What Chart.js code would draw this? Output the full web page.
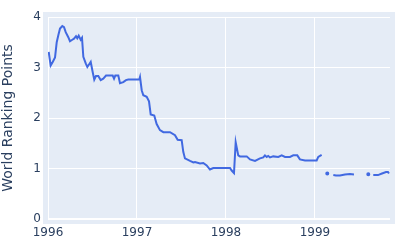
<!DOCTYPE html>
<html>
<head>
<meta charset="utf-8">
<script src="https://cdn.jsdelivr.net/npm/chart.js@4"></script>
<style>
  html, body { margin: 0; padding: 0; background: #fff; }
  #wrap { width: 400px; height: 250px; }
</style>
</head>
<body>
<div id="wrap"><canvas id="rankChart"></canvas></div>
<script>
// decimal year of each ranking week, null value = no ranking that week
var weeks = [
    1996.008, 1996.030, 1996.053, 1996.079, 1996.098, 1996.116, 1996.135, 1996.161,
    1996.180, 1996.199, 1996.228, 1996.247, 1996.273, 1996.292, 1996.315, 1996.329,
    1996.345, 1996.367, 1996.382, 1996.397, 1996.424, 1996.442, 1996.461, 1996.480,
    1996.502, 1996.520, 1996.539, 1996.565, 1996.592, 1996.621, 1996.652, 1996.697,
    1996.727, 1996.742, 1996.756, 1996.790, 1996.809, 1996.846, 1996.876, 1996.902,
    1997.026, 1997.034, 1997.053, 1997.071, 1997.109, 1997.135, 1997.154, 1997.194,
    1997.221, 1997.258, 1997.296, 1997.371, 1997.427, 1997.457, 1997.502, 1997.520,
    1997.539, 1997.596, 1997.633, 1997.652, 1997.708, 1997.745, 1997.783, 1997.820,
    1997.857, 1998.045, 1998.064, 1998.090, 1998.109, 1998.138, 1998.157, 1998.233,
    1998.270, 1998.326, 1998.382, 1998.419, 1998.438, 1998.457, 1998.475, 1998.494,
    1998.531, 1998.588, 1998.626, 1998.663, 1998.719, 1998.756, 1998.801, 1998.831,
    1998.888, 1999.019, 1999.037, 1999.075, 1999.095, 1999.138, 1999.160, 1999.206,
    1999.236, 1999.281, 1999.337, 1999.393, 1999.438, 1999.470, 1999.599, 1999.620,
    1999.655, 1999.708, 1999.753, 1999.798, 1999.820, 1999.831
];
var points = [
    3.31, 3.04, 3.11, 3.20, 3.50, 3.64, 3.77, 3.82,
    3.80, 3.70, 3.60, 3.52, 3.55, 3.57, 3.62, 3.58,
    3.63, 3.55, 3.59, 3.21, 3.08, 3.01, 3.06, 3.11,
    2.91, 2.76, 2.83, 2.83, 2.75, 2.78, 2.84, 2.84,
    2.84, 2.78, 2.84, 2.84, 2.69, 2.71, 2.75, 2.76,
    2.76, 2.81, 2.55, 2.45, 2.42, 2.33, 2.07, 2.05,
    1.88, 1.76, 1.72, 1.72, 1.66, 1.57, 1.56, 1.33,
    1.20, 1.15, 1.12, 1.13, 1.10, 1.11, 1.06, 0.98,
    1.01, 1.01, 0.96, 0.91, 1.52, 1.26, 1.24, 1.24,
    1.18, 1.15, 1.20, 1.22, 1.26, 1.23, 1.25, 1.22,
    1.24, 1.23, 1.26, 1.23, 1.23, 1.26, 1.26, 1.18,
    1.16, 1.16, 1.23, 1.27, null, 0.90, null, 0.87,
    0.86, 0.86, 0.88, 0.89, 0.88, null, 0.885, null,
    0.87, 0.87, 0.90, 0.93, 0.93, 0.90
];
var yearTicks = [1996, 1997, 1998, 1999];

var textColor = '#2a3f5f';
var chartData = weeks.map(function(w, i) { return { x: w, y: points[i] }; });

// plotly-like background that sticks out a little past the plot area
var plotBackground = {
    id: 'plotBackground',
    beforeDraw: function(chart) {
        var a = chart.chartArea;
        var ctx = chart.ctx;
        ctx.save();
        ctx.fillStyle = '#e5ecf6';
        ctx.fillRect(a.left - 5, a.top - 5, a.right - a.left + 10, a.bottom - a.top + 10);
        ctx.restore();
    }
};

// show single weeks between gaps as a dot
function lonePoint(ctx) {
    var i = ctx.dataIndex;
    if (points[i] === null) return 0;
    var before = i === 0 ? null : points[i - 1];
    var after = i === points.length - 1 ? null : points[i + 1];
    return (before === null && after === null) ? 1 : 0;
}

var rankChartOptions = {
    type: 'line',
    data: {
        datasets: [{
            label: 'World Ranking Points',
            data: chartData,
            borderColor: '#4169e1',
            backgroundColor: '#4169e1',
            borderWidth: 2,
            pointRadius: lonePoint,
            pointHoverRadius: 0,
            tension: 0,
            spanGaps: false
        }]
    },
    options: {
        responsive: true,
        maintainAspectRatio: false,
        animation: false,
        layout: { padding: { top: 17, right: 10, left: 0, bottom: 0 } },
        plugins: {
            legend: { display: false },
            tooltip: { enabled: false }
        },
        scales: {
            x: {
                type: 'linear',
                min: 1996,
                max: 1999.843,
                afterBuildTicks: function(axis) {
                    axis.ticks = yearTicks.map(function(v) { return { value: v }; });
                },
                afterFit: function(axis) { axis.height = 31; },
                grid: { color: '#ffffff', lineWidth: 1, drawTicks: false },
                border: { display: false },
                ticks: {
                    color: textColor,
                    padding: 7,
                    maxRotation: 0,
                    font: { family: 'DejaVu Sans', size: 12 },
                    callback: function(v) { return String(v); }
                }
            },
            y: {
                min: 0,
                max: 4,
                afterFit: function(axis) { axis.width = 48; },
                grid: {
                    color: '#ffffff',
                    drawTicks: false,
                    lineWidth: function(ctx) { return ctx.tick && ctx.tick.value === 0 ? 2 : 1; }
                },
                border: { display: false },
                ticks: {
                    stepSize: 1,
                    color: textColor,
                    padding: 7,
                    font: { family: 'DejaVu Sans', size: 12 }
                },
                title: {
                    display: true,
                    text: 'World Ranking Points',
                    color: textColor,
                    padding: 0,
                    font: { family: 'DejaVu Sans', size: 14 }
                }
            }
        }
    },
    plugins: [plotBackground]
};

var canvas = document.getElementById('rankChart');
var chart = new Chart(canvas, rankChartOptions);
</script>
</body>
</html>
